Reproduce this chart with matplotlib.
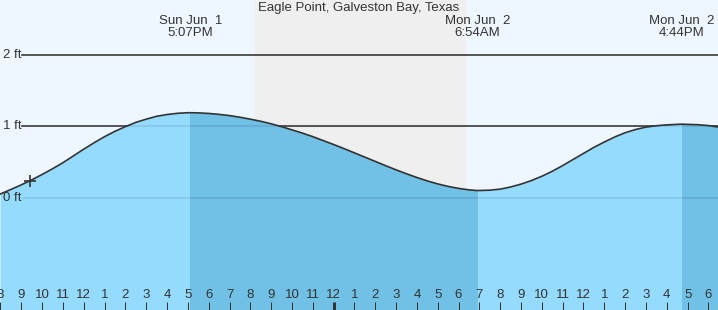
import matplotlib
matplotlib.use("Agg")
import matplotlib.pyplot as plt
import matplotlib.transforms as mtransforms
from matplotlib.patches import Rectangle

plt.rcParams["font.family"] = ["Liberation Sans", "DejaVu Sans"]

TITLE = "Eagle Point, Galveston Bay, Texas"

# hours since midnight Sun Jun 1, tide height in ft
hours = [7.98, 8.5, 9, 9.5, 10, 10.5, 11, 11.5, 12, 12.5, 13, 13.5, 14, 14.5,
         15, 15.5, 16, 16.5, 17, 17.12, 17.5, 18, 18.5, 19, 19.5, 20, 20.5,
         21, 21.5, 22, 22.5, 23, 23.5, 24, 24.5, 25, 25.5, 26, 26.5, 27, 27.5,
         28, 28.5, 29, 29.5, 30, 30.5, 30.9, 31.5, 32, 32.5, 33, 33.5, 34,
         34.5, 35, 35.5, 36, 36.5, 37, 37.5, 38, 38.5, 39, 39.5, 40, 40.73,
         41.5, 42, 42.46]
heights = [0.05, 0.115, 0.18, 0.25, 0.325, 0.405, 0.49, 0.585, 0.68, 0.77,
           0.855, 0.93, 0.995, 1.055, 1.10, 1.14, 1.165, 1.182, 1.19, 1.19,
           1.188, 1.18, 1.167, 1.15, 1.127, 1.10, 1.07, 1.035, 0.995, 0.95,
           0.905, 0.855, 0.80, 0.745, 0.687, 0.628, 0.568, 0.508, 0.448, 0.39,
           0.335, 0.283, 0.235, 0.193, 0.158, 0.13, 0.11, 0.10, 0.105, 0.12,
           0.15, 0.19, 0.24, 0.30, 0.37, 0.45, 0.535, 0.62, 0.705, 0.78, 0.85,
           0.91, 0.955, 0.988, 1.008, 1.02, 1.03, 1.022, 1.01, 0.99]

# high / low events
event_hours = [17.12, 30.9, 40.73]
event_days = ["Sun Jun  1", "Mon Jun  2", "Mon Jun  2"]
event_times = ["5:07PM", "6:54AM", "4:44PM"]

# now marker
now_hour, now_height = 9.42, 0.24

sunset, sunrise = 20.22, 30.31
levels = [0, 1, 2]
level_labels = ["0 ft", "1 ft", "2 ft"]

tick_hours = list(range(8, 43))
tick_labels = [str((h - 1) % 12 + 1) for h in tick_hours]

FS = 9.5
INK = "#333333"

fig = plt.figure(figsize=(7.18, 3.10), dpi=100)
ax = fig.add_axes([0, 0, 1, 1])
ax.set_xlim(7.977, 42.46)
ax.set_ylim(-1.573, 2.769)
ax.axis("off")
fig.patch.set_facecolor("#eef7ff")

ax.axvspan(sunset, sunrise, color="#efefef", zorder=0)

trans = mtransforms.blended_transform_factory(ax.transAxes, ax.transData)
for lv, lab in zip(levels, level_labels):
    ax.plot([22 / 718, 1], [lv, lv], transform=trans, color=INK, lw=1.1, zorder=1)
    ax.text(3 / 718, lv, lab, transform=trans, ha="left", va="center",
            fontsize=FS, color=INK, zorder=5)

ax.fill_between(hours, heights, -2, color="#95dbfe", lw=0, zorder=2)
for x0, x1 in [(event_hours[0], event_hours[1]), (event_hours[2], 50)]:
    dark = ax.fill_between(hours, heights, -2, color="#71c0e6", lw=0, zorder=2.5)
    clip = Rectangle((x0, -3), x1 - x0, 6, transform=ax.transData)
    dark.set_clip_path(clip)

for lv in levels:
    ax.plot([22 / 718, 1], [lv, lv], transform=trans, color="black", alpha=0.1,
            lw=1.1, zorder=3)

ax.plot(hours, heights, color=INK, lw=1.2, zorder=4)
ax.plot([now_hour], [now_height], marker="+", color=INK, ms=8, mew=1.2, zorder=4)

# title and event labels
tpx = mtransforms.blended_transform_factory(ax.transData, ax.transAxes)
ax.text(0.5, 1 - 11 / 310, TITLE, transform=ax.transAxes, ha="center",
        va="baseline", fontsize=FS, color=INK)
for h, d, t in zip(event_hours, event_days, event_times):
    ax.text(h, 1 - 24 / 310, d, transform=tpx, ha="center", va="baseline",
            fontsize=FS, color=INK)
    ax.text(h, 1 - 36 / 310, t, transform=tpx, ha="center", va="baseline",
            fontsize=FS, color=INK)

# hour ticks
for h, lab in zip(tick_hours, tick_labels):
    lw = 3 if h == 24 else 1
    ax.plot([h, h], [0, 8 / 310], transform=tpx, color=INK, lw=lw * 0.72,
            solid_capstyle="butt", zorder=5)
    ax.text(h, 1 - 295.5 / 310, lab, transform=tpx, ha="center", va="center",
            fontsize=FS, color=INK, zorder=5)

fig.savefig("out.png", dpi=100, facecolor=fig.get_facecolor())
